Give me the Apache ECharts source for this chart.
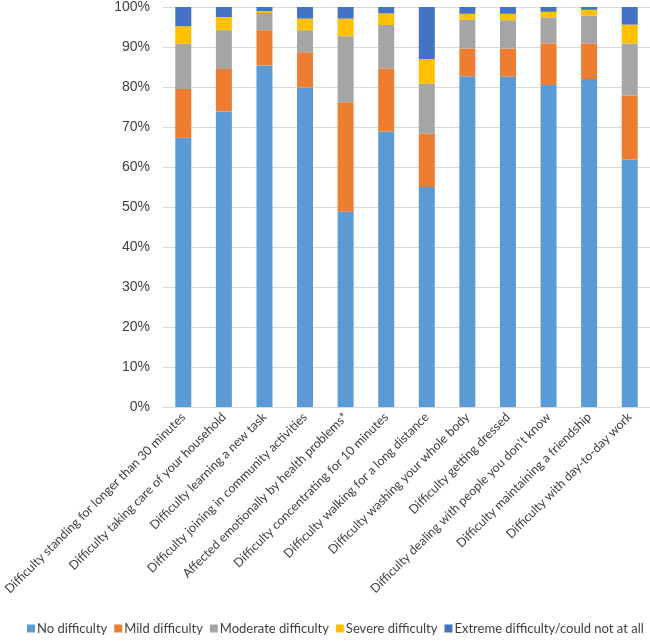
<!DOCTYPE html>
<html>
<head>
  <meta charset="utf-8">
  <script src="https://cdn.jsdelivr.net/npm/echarts@6/dist/echarts.min.js"></script>
  <style>
    body { margin: 0; background: #fff; }
  </style>
  <title>Difficulty levels</title>
</head>
<body>
  <div id="main" style="width: 650px; height: 641px;"></div>
  <script type="text/javascript">
    // categories along the x axis
    const categories = [
      "Difficulty standing for longer than 30 minutes",
      "Difficulty taking care of your household",
      "Difficulty learning a new task",
      "Difficulty joining in community activities",
      "Affected emotionally by health problems*",
      "Difficulty concentrating for 10 minutes",
      "Difficulty walking for a long distance",
      "Difficulty washing your whole body",
      "Difficulty getting dressed",
      "Difficulty dealing with people you don't know",
      "Difficulty maintaining a friendship",
      "Difficulty with day-to-day work"
    ];

    // percent of respondents
    const noDifficulty       = [67.3, 73.9, 85.4, 79.9, 48.8, 68.9, 55.0, 82.7, 82.6, 80.5, 82.0, 61.9];
    const mildDifficulty     = [12.2, 10.6,  8.8,  8.8, 27.4, 15.7, 13.3,  6.9,  7.0, 10.4,  8.9, 16.0];
    const moderateDifficulty = [11.3,  9.7,  4.3,  5.5, 16.5, 10.9, 12.5,  7.2,  7.1,  6.5,  6.9, 13.0];
    const severeDifficulty   = [ 4.4,  3.3,  0.5,  2.9,  4.4,  2.9,  6.2,  1.5,  1.6,  1.4,  1.5,  4.7];
    const extremeDifficulty  = [ 4.8,  2.5,  1.0,  2.9,  2.9,  1.6, 13.0,  1.7,  1.7,  1.2,  0.7,  4.4];

    const seriesNames = ["No difficulty", "Mild difficulty", "Moderate difficulty",
                         "Severe difficulty", "Extreme difficulty/could not at all"];
    const seriesData = [noDifficulty, mildDifficulty, moderateDifficulty, severeDifficulty, extremeDifficulty];
    const colors = ["#5B9BD5", "#ED7D31", "#A5A5A5", "#FFC000", "#4472C4"];

    const chart = echarts.init(document.getElementById('main'), null, { renderer: 'canvas' });

    const option = {
      animation: false,
      color: colors,
      textStyle: { fontFamily: 'Lato' },
      grid: { left: 163, right: 0, top: 7, bottom: 234 },
      legend: {
        bottom: 6,
        left: 27,
        width: 623,
        padding: 0,
        itemWidth: 8,
        itemHeight: 8,
        itemGap: 7,
        icon: 'rect',
        textStyle: { fontSize: 13, color: '#404040', fontFamily: 'Lato', padding: [0, 0, 0, -3] },
        data: seriesNames
      },
      xAxis: {
        type: 'category',
        data: categories,
        axisTick: { show: false },
        axisLine: { lineStyle: { color: '#D9D9D9' } },
        axisLabel: { rotate: 45, fontSize: 12.5, color: '#404040', margin: 8, interval: 0 }
      },
      yAxis: {
        type: 'value',
        min: 0,
        max: 100,
        interval: 10,
        axisLabel: { formatter: '{value}%', fontSize: 14, color: '#404040', margin: 13, fontFamily: 'Liberation Sans' },
        splitLine: { lineStyle: { color: '#D9D9D9' } },
        axisLine: { show: false },
        axisTick: { show: false }
      },
      series: seriesNames.map((name, i) => ({
        name: name,
        type: 'bar',
        stack: 'total',
        barWidth: 16,
        data: seriesData[i]
      }))
    };

    chart.setOption(option);
  </script>
</body>
</html>
